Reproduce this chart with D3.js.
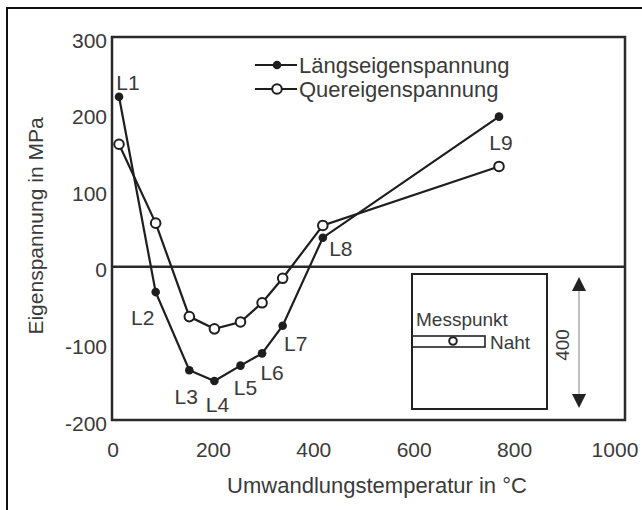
<!DOCTYPE html>
<html>
<head>
<meta charset="utf-8">
<script src="https://cdn.jsdelivr.net/npm/d3@7"></script>
<style>
  html, body { margin: 0; padding: 0; background: #fff; }
  svg { display: block; font-family: "Liberation Sans", Arial, sans-serif; }
</style>
</head>
<body>
<svg id="chart" width="642" height="510"></svg>
<script>
// ---- data ----
const temperatures = [10, 83, 150, 200, 252, 295, 336, 416, 767];
const laengs = [222, -33, -135, -149, -129, -113, -77, 38, 196];
const quer = [160, 57, -65, -81, -72, -47, -15, 54, 131];
const pointLabels = ["L1", "L2", "L3", "L4", "L5", "L6", "L7", "L8", "L9"];
const xTicks = [0, 200, 400, 600, 800, 1000];
const yTicks = [-200, -100, 0, 100, 200, 300];
const seriesNames = ["Längseigenspannung", "Quereigenspannung"];

// label placement offsets (px) relative to the Längs point
const labelOffsets = [[9,-14],[-13,25],[-3,26],[3,24],[5,22],[10,19],[13,18],[18,11],[2,26]];

const svg = d3.select("#chart");
const ink = "#1e1e1e";
const txt = "#3a3a3a";

const x = d3.scaleLinear().domain([-4, 1018]).range([112, 625]);
const y = d3.scaleLinear().domain([-200, 300]).range([420, 37]);

// outer frame (extends beyond right/bottom edges)
svg.append("rect").attr("x", 7).attr("y", 8).attr("width", 700).attr("height", 600)
  .attr("fill", "none").attr("stroke", "#111").attr("stroke-width", 2);

// plot frame
svg.append("rect")
  .attr("x", x.range()[0]).attr("y", y.range()[1])
  .attr("width", x.range()[1] - x.range()[0]).attr("height", y.range()[0] - y.range()[1])
  .attr("fill", "none").attr("stroke", "#2a2a2a").attr("stroke-width", 2.5);

// zero line
svg.append("line").attr("x1", x.range()[0]).attr("x2", x.range()[1])
  .attr("y1", y(0)).attr("y2", y(0)).attr("stroke", "#2a2a2a").attr("stroke-width", 2.5);

// y tick labels
svg.append("g").selectAll("text").data(yTicks).join("text")
  .attr("x", 107).attr("y", d => y(d) + 3)
  .attr("text-anchor", "end").attr("dominant-baseline", "central")
  .attr("font-size", 21).attr("fill", txt).text(d => d);

// x tick labels
svg.append("g").selectAll("text").data(xTicks).join("text")
  .attr("x", d => x(d) - 1).attr("y", 449)
  .attr("text-anchor", "middle").attr("dominant-baseline", "central")
  .attr("font-size", 21).attr("fill", txt).text(d => d);

// axis titles
svg.append("text").attr("x", 377).attr("y", 493).attr("text-anchor", "middle")
  .attr("font-size", 22).attr("fill", txt).text("Umwandlungstemperatur in °C");
svg.append("text").attr("transform", "translate(43,226) rotate(-90)")
  .attr("text-anchor", "middle").attr("font-size", 21).attr("fill", txt)
  .text("Eigenspannung in MPa");

// lines
const line = d3.line().x(d => x(d[0])).y(d => y(d[1]));
const lData = temperatures.map((t, i) => [t, laengs[i]]);
const qData = temperatures.map((t, i) => [t, quer[i]]);

svg.append("path").datum(qData).attr("d", line)
  .attr("fill", "none").attr("stroke", ink).attr("stroke-width", 2.2);
svg.append("path").datum(lData).attr("d", line)
  .attr("fill", "none").attr("stroke", ink).attr("stroke-width", 2.2);

svg.append("g").selectAll("circle").data(qData).join("circle")
  .attr("cx", d => x(d[0])).attr("cy", d => y(d[1])).attr("r", 4.8)
  .attr("fill", "#fff").attr("stroke", ink).attr("stroke-width", 2);
svg.append("g").selectAll("circle").data(lData).join("circle")
  .attr("cx", d => x(d[0])).attr("cy", d => y(d[1])).attr("r", 4.3)
  .attr("fill", ink);

// point labels
svg.append("g").selectAll("text").data(lData).join("text")
  .attr("x", (d, i) => x(d[0]) + labelOffsets[i][0])
  .attr("y", (d, i) => y(d[1]) + labelOffsets[i][1])
  .attr("text-anchor", "middle").attr("dominant-baseline", "central")
  .attr("font-size", 21).attr("fill", txt).text((d, i) => pointLabels[i]);

// legend
const leg = svg.append("g");
[65, 89].forEach((ly, i) => {
  leg.append("line").attr("x1", 255).attr("x2", 297).attr("y1", ly).attr("y2", ly)
    .attr("stroke", ink).attr("stroke-width", 2.2);
  if (i === 0) {
    leg.append("circle").attr("cx", 277).attr("cy", ly).attr("r", 4.3).attr("fill", ink);
  } else {
    leg.append("circle").attr("cx", 277).attr("cy", ly).attr("r", 4.8)
      .attr("fill", "#fff").attr("stroke", ink).attr("stroke-width", 2);
  }
  leg.append("text").attr("x", 299).attr("y", ly).attr("dominant-baseline", "central")
    .attr("font-size", 22).attr("fill", txt).text(seriesNames[i]);
});

// inset sketch
const ins = svg.append("g");
ins.append("rect").attr("x", 412).attr("y", 274).attr("width", 135).attr("height", 135)
  .attr("fill", "#fff").attr("stroke", "#222").attr("stroke-width", 2);
ins.append("rect").attr("x", 412).attr("y", 336).attr("width", 73).attr("height", 11)
  .attr("fill", "none").attr("stroke", "#222").attr("stroke-width", 1.6);
ins.append("circle").attr("cx", 453).attr("cy", 341).attr("r", 3.8)
  .attr("fill", "#fff").attr("stroke", "#222").attr("stroke-width", 2);
ins.append("text").attr("x", 416).attr("y", 326).attr("font-size", 19).attr("fill", txt).text("Messpunkt");
ins.append("text").attr("x", 490).attr("y", 349).attr("font-size", 19).attr("fill", txt).text("Naht");
ins.append("text").attr("transform", "translate(569,345) rotate(-90)")
  .attr("text-anchor", "middle").attr("font-size", 19).attr("fill", txt).text("400");
// dimension arrow
ins.append("line").attr("x1", 579).attr("x2", 579).attr("y1", 288).attr("y2", 397)
  .attr("stroke", "#999").attr("stroke-width", 1.2);
ins.append("path").attr("d", "M579,277 L572,291 L586,291 Z").attr("fill", "#222");
ins.append("path").attr("d", "M579,408 L572,394 L586,394 Z").attr("fill", "#222");
</script>
</body>
</html>
